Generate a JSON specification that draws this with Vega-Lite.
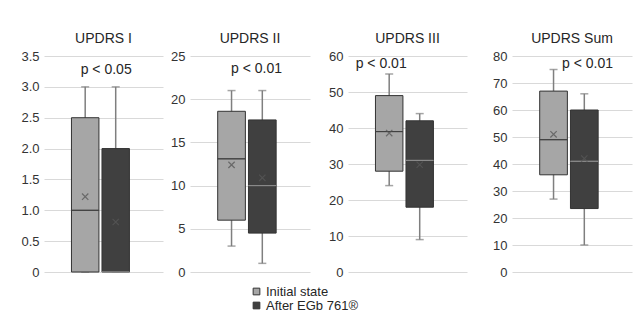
{
  "$schema": "https://vega.github.io/schema/vega-lite/v6.json",
  "padding": {"left": 14, "top": 32, "right": 5, "bottom": 5},
  "background": "white",
  "datasets": {
    "stats": [
      {"panel": "UPDRS I", "group": "Initial state", "min": 0, "q1": 0, "median": 1, "q3": 2.5, "max": 3, "mean": 1.22},
      {"panel": "UPDRS I", "group": "After EGb 761®", "min": 0, "q1": 0, "median": 0, "q3": 2, "max": 3, "mean": 0.81},
      {"panel": "UPDRS II", "group": "Initial state", "min": 3, "q1": 6, "median": 13.1, "q3": 18.6, "max": 21, "mean": 12.4},
      {"panel": "UPDRS II", "group": "After EGb 761®", "min": 1, "q1": 4.5, "median": 10, "q3": 17.6, "max": 21, "mean": 10.9},
      {"panel": "UPDRS III", "group": "Initial state", "min": 24, "q1": 28, "median": 39, "q3": 49, "max": 55, "mean": 38.6},
      {"panel": "UPDRS III", "group": "After EGb 761®", "min": 9, "q1": 18, "median": 31, "q3": 42, "max": 44, "mean": 29.8},
      {"panel": "UPDRS Sum", "group": "Initial state", "min": 27, "q1": 36, "median": 49, "q3": 67, "max": 75, "mean": 51},
      {"panel": "UPDRS Sum", "group": "After EGb 761®", "min": 10, "q1": 23.5, "median": 41, "q3": 60, "max": 66, "mean": 42}
    ],
    "notes": [
      {"panel": "UPDRS I", "label": "p < 0.05", "value": 3.28},
      {"panel": "UPDRS II", "label": "p < 0.01", "value": 23.5},
      {"panel": "UPDRS III", "label": "p < 0.01", "value": 57.7},
      {"panel": "UPDRS Sum", "label": "p < 0.01", "value": 77.2}
    ]
  },
  "spacing": 0,
  "resolve": {"scale": {"color": "shared"}, "legend": {"color": "shared"}},
  "hconcat": [
    {
      "width": 119, "height": 216,
      "title": "UPDRS I",
      "data": {"name": "stats"},
      "transform": [{"filter": "datum.panel == 'UPDRS I'"}],
      "encoding": {
        "x": {"field": "group", "type": "nominal", "sort": ["Initial state", "After EGb 761®"], "axis": null,
              "scale": {"paddingInner": 0.1, "paddingOuter": 1, "align": 0.45}}
      },
      "layer": [
        {"mark": {"type": "rule", "color": "#7f7f7f", "strokeWidth": 1.5},
         "encoding": {"y": {"field": "min", "type": "quantitative", "scale": {"domain": [0, 3.5], "nice": false},
                            "axis": {"values": [0, 0.5, 1, 1.5, 2, 2.5, 3, 3.5], "tickCount": 8, "labelOverlap": false, "labelExpr": "datum.value == 0 ? '0' : format(datum.value, '.1f')", "title": null, "minExtent": 30}},
                      "y2": {"field": "max"}}},
        {"mark": {"type": "tick", "color": "#7f7f7f", "size": 8, "thickness": 1.5}, "encoding": {"y": {"field": "min", "type": "quantitative"}}},
        {"mark": {"type": "tick", "color": "#7f7f7f", "size": 8, "thickness": 1.5}, "encoding": {"y": {"field": "max", "type": "quantitative"}}},
        {"mark": {"type": "bar", "stroke": "#333333", "strokeWidth": 1},
         "encoding": {"y": {"field": "q1", "type": "quantitative"}, "y2": {"field": "q3"},
                      "color": {"field": "group", "type": "nominal", "title": null, "scale": {"domain": ["Initial state", "After EGb 761®"], "range": ["#a6a6a6", "#404040"]}}}},
        {"mark": {"type": "bar", "fillOpacity": 0, "strokeWidth": 1},
         "encoding": {"y": {"field": "median", "type": "quantitative"}, "y2": {"field": "median"},
                      "stroke": {"condition": {"test": "datum.group == 'Initial state'", "value": "#404040"}, "value": "#8a8a8a"}}},
        {"mark": {"type": "point", "shape": "M-1,-1L1,1M-1,1L1,-1", "size": 40, "filled": false, "strokeWidth": 1.2},
         "encoding": {"y": {"field": "mean", "type": "quantitative"},
                      "stroke": {"condition": {"test": "datum.group == 'Initial state'", "value": "#505050"}, "value": "#5a5a5a"}}},
        {"data": {"name": "notes"}, "transform": [{"filter": "datum.panel == 'UPDRS I'"}],
         "mark": {"type": "text", "fontSize": 14, "font": "Liberation Sans", "color": "#262626", "dx": 21},
         "encoding": {"x": {"datum": "Initial state"}, "y": {"field": "value", "type": "quantitative"}, "text": {"field": "label"}}}
      ]
    },
    {
      "width": 120, "height": 216,
      "title": "UPDRS II",
      "data": {"name": "stats"},
      "transform": [{"filter": "datum.panel == 'UPDRS II'"}],
      "encoding": {
        "x": {"field": "group", "type": "nominal", "sort": ["Initial state", "After EGb 761®"], "axis": null,
              "scale": {"paddingInner": 0.1, "paddingOuter": 1, "align": 0.45}}
      },
      "layer": [
        {"mark": {"type": "rule", "color": "#7f7f7f", "strokeWidth": 1.5},
         "encoding": {"y": {"field": "min", "type": "quantitative", "scale": {"domain": [0, 25], "nice": false},
                            "axis": {"values": [0, 5, 10, 15, 20, 25], "tickCount": 6, "labelOverlap": false, "title": null, "minExtent": 27}},
                      "y2": {"field": "max"}}},
        {"mark": {"type": "tick", "color": "#7f7f7f", "size": 8, "thickness": 1.5}, "encoding": {"y": {"field": "min", "type": "quantitative"}}},
        {"mark": {"type": "tick", "color": "#7f7f7f", "size": 8, "thickness": 1.5}, "encoding": {"y": {"field": "max", "type": "quantitative"}}},
        {"mark": {"type": "bar", "stroke": "#333333", "strokeWidth": 1},
         "encoding": {"y": {"field": "q1", "type": "quantitative"}, "y2": {"field": "q3"},
                      "color": {"field": "group", "type": "nominal", "title": null, "scale": {"domain": ["Initial state", "After EGb 761®"], "range": ["#a6a6a6", "#404040"]}}}},
        {"mark": {"type": "bar", "fillOpacity": 0, "strokeWidth": 1},
         "encoding": {"y": {"field": "median", "type": "quantitative"}, "y2": {"field": "median"},
                      "stroke": {"condition": {"test": "datum.group == 'Initial state'", "value": "#404040"}, "value": "#8a8a8a"}}},
        {"mark": {"type": "point", "shape": "M-1,-1L1,1M-1,1L1,-1", "size": 40, "filled": false, "strokeWidth": 1.2},
         "encoding": {"y": {"field": "mean", "type": "quantitative"},
                      "stroke": {"condition": {"test": "datum.group == 'Initial state'", "value": "#505050"}, "value": "#5a5a5a"}}},
        {"data": {"name": "notes"}, "transform": [{"filter": "datum.panel == 'UPDRS II'"}],
         "mark": {"type": "text", "fontSize": 14, "font": "Liberation Sans", "color": "#262626", "dx": 25},
         "encoding": {"x": {"datum": "Initial state"}, "y": {"field": "value", "type": "quantitative"}, "text": {"field": "label"}}}
      ]
    },
    {
      "width": 119, "height": 216,
      "title": "UPDRS III",
      "data": {"name": "stats"},
      "transform": [{"filter": "datum.panel == 'UPDRS III'"}],
      "encoding": {
        "x": {"field": "group", "type": "nominal", "sort": ["Initial state", "After EGb 761®"], "axis": null,
              "scale": {"paddingInner": 0.1, "paddingOuter": 1, "align": 0.45}}
      },
      "layer": [
        {"mark": {"type": "rule", "color": "#7f7f7f", "strokeWidth": 1.5},
         "encoding": {"y": {"field": "min", "type": "quantitative", "scale": {"domain": [0, 60], "nice": false},
                            "axis": {"values": [0, 10, 20, 30, 40, 50, 60], "tickCount": 7, "labelOverlap": false, "title": null, "minExtent": 38}},
                      "y2": {"field": "max"}}},
        {"mark": {"type": "tick", "color": "#7f7f7f", "size": 8, "thickness": 1.5}, "encoding": {"y": {"field": "min", "type": "quantitative"}}},
        {"mark": {"type": "tick", "color": "#7f7f7f", "size": 8, "thickness": 1.5}, "encoding": {"y": {"field": "max", "type": "quantitative"}}},
        {"mark": {"type": "bar", "stroke": "#333333", "strokeWidth": 1},
         "encoding": {"y": {"field": "q1", "type": "quantitative"}, "y2": {"field": "q3"},
                      "color": {"field": "group", "type": "nominal", "title": null, "scale": {"domain": ["Initial state", "After EGb 761®"], "range": ["#a6a6a6", "#404040"]}}}},
        {"mark": {"type": "bar", "fillOpacity": 0, "strokeWidth": 1},
         "encoding": {"y": {"field": "median", "type": "quantitative"}, "y2": {"field": "median"},
                      "stroke": {"condition": {"test": "datum.group == 'Initial state'", "value": "#404040"}, "value": "#8a8a8a"}}},
        {"mark": {"type": "point", "shape": "M-1,-1L1,1M-1,1L1,-1", "size": 40, "filled": false, "strokeWidth": 1.2},
         "encoding": {"y": {"field": "mean", "type": "quantitative"},
                      "stroke": {"condition": {"test": "datum.group == 'Initial state'", "value": "#505050"}, "value": "#5a5a5a"}}},
        {"data": {"name": "notes"}, "transform": [{"filter": "datum.panel == 'UPDRS III'"}],
         "mark": {"type": "text", "fontSize": 14, "font": "Liberation Sans", "color": "#262626", "dx": -8},
         "encoding": {"x": {"datum": "Initial state"}, "y": {"field": "value", "type": "quantitative"}, "text": {"field": "label"}}}
      ]
    },
    {
      "width": 120, "height": 216,
      "title": "UPDRS Sum",
      "data": {"name": "stats"},
      "transform": [{"filter": "datum.panel == 'UPDRS Sum'"}],
      "encoding": {
        "x": {"field": "group", "type": "nominal", "sort": ["Initial state", "After EGb 761®"], "axis": null,
              "scale": {"paddingInner": 0.1, "paddingOuter": 1, "align": 0.45}}
      },
      "layer": [
        {"mark": {"type": "rule", "color": "#7f7f7f", "strokeWidth": 1.5},
         "encoding": {"y": {"field": "min", "type": "quantitative", "scale": {"domain": [0, 80], "nice": false},
                            "axis": {"values": [0, 10, 20, 30, 40, 50, 60, 70, 80], "tickCount": 9, "labelOverlap": false, "title": null, "minExtent": 45}},
                      "y2": {"field": "max"}}},
        {"mark": {"type": "tick", "color": "#7f7f7f", "size": 8, "thickness": 1.5}, "encoding": {"y": {"field": "min", "type": "quantitative"}}},
        {"mark": {"type": "tick", "color": "#7f7f7f", "size": 8, "thickness": 1.5}, "encoding": {"y": {"field": "max", "type": "quantitative"}}},
        {"mark": {"type": "bar", "stroke": "#333333", "strokeWidth": 1},
         "encoding": {"y": {"field": "q1", "type": "quantitative"}, "y2": {"field": "q3"},
                      "color": {"field": "group", "type": "nominal", "title": null, "scale": {"domain": ["Initial state", "After EGb 761®"], "range": ["#a6a6a6", "#404040"]}}}},
        {"mark": {"type": "bar", "fillOpacity": 0, "strokeWidth": 1},
         "encoding": {"y": {"field": "median", "type": "quantitative"}, "y2": {"field": "median"},
                      "stroke": {"condition": {"test": "datum.group == 'Initial state'", "value": "#404040"}, "value": "#8a8a8a"}}},
        {"mark": {"type": "point", "shape": "M-1,-1L1,1M-1,1L1,-1", "size": 40, "filled": false, "strokeWidth": 1.2},
         "encoding": {"y": {"field": "mean", "type": "quantitative"},
                      "stroke": {"condition": {"test": "datum.group == 'Initial state'", "value": "#505050"}, "value": "#5a5a5a"}}},
        {"data": {"name": "notes"}, "transform": [{"filter": "datum.panel == 'UPDRS Sum'"}],
         "mark": {"type": "text", "fontSize": 14, "font": "Liberation Sans", "color": "#262626", "dx": 34},
         "encoding": {"x": {"datum": "Initial state"}, "y": {"field": "value", "type": "quantitative"}, "text": {"field": "label"}}}
      ]
    }
  ],
  "config": {
    "font": "Liberation Sans",
    "view": {"stroke": null},
    "title": {"fontSize": 14, "fontWeight": "normal", "color": "#262626", "offset": 4, "font": "Liberation Sans"},
    "axis": {"labelFontSize": 13, "labelColor": "#333333", "labelFont": "Liberation Sans", "grid": true, "gridColor": "#d9d9d9", "gridWidth": 1,
             "domain": false, "ticks": false, "labelPadding": 5, "labelOverlap": false},
    "legend": {"orient": "none", "legendX": 206, "legendY": 229, "symbolType": "square", "symbolSize": 45,
               "symbolStrokeColor": "#333333", "symbolStrokeWidth": 1, "labelFontSize": 13, "labelColor": "#262626",
               "labelFont": "Liberation Sans", "rowPadding": 0, "labelOffset": 3, "padding": 0}
  }
}
